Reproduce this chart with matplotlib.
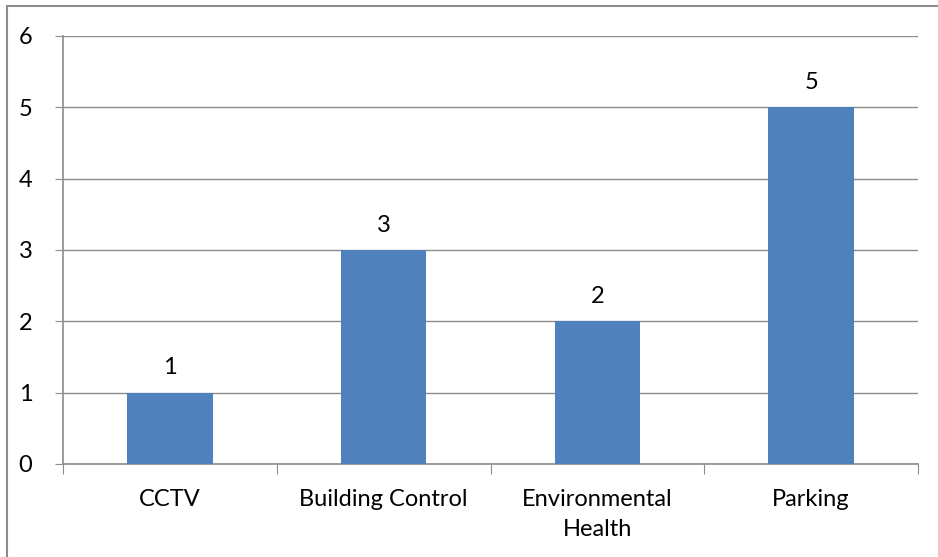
import matplotlib.pyplot as plt
from matplotlib.patches import Rectangle

categories = ["CCTV", "Building Control", "Environmental\nHealth", "Parking"]
counts = [1, 3, 2, 5]

W, H = 938, 557
fig = plt.figure(figsize=(W / 100, H / 100), dpi=100)
plt.rcParams['font.family'] = ['Lato', 'DejaVu Sans']
FS = 17

# plot area in pixel coords
left, right, top, bottom = 63, 918, 36, 464
ax = fig.add_axes([left / W, 1 - bottom / H, (right - left) / W, (bottom - top) / H])

# outer chart border (cropped on right/bottom)
fig.patches.append(Rectangle((7 / W, -0.1), 1.2, 1 - 6 / H + 0.1, transform=fig.transFigure,
                             fill=False, edgecolor='#8c8c8c', linewidth=1.5))

x = list(range(len(categories)))
ax.bar(x, counts, width=0.4, color='#4F81BD', zorder=3)
for xi, v in zip(x, counts):
    ax.text(xi, v + 0.2, str(v), ha='center', va='bottom', fontsize=FS)

ax.set_xlim(-0.5, len(categories) - 0.5)
ax.set_ylim(0, 6)
ax.set_yticks(range(0, 7))
ax.grid(axis='y', color='#8c8c8c', linewidth=1, zorder=0)
ax.set_axisbelow(True)

ax.set_xticks([i - 0.5 for i in range(len(categories) + 1)])
ax.set_xticklabels([])
ax.set_xticks(x, minor=True)
ax.set_xticklabels(categories, minor=True, fontsize=FS, linespacing=1.5)
ax.tick_params(axis='x', which='minor', length=0, pad=18)
ax.tick_params(axis='x', which='major', length=7, color='#8c8c8c')
ax.tick_params(axis='y', length=6, color='#8c8c8c', labelsize=FS, pad=16)

for s in ['top', 'right']:
    ax.spines[s].set_visible(False)
for s in ['left', 'bottom']:
    ax.spines[s].set_color('#8c8c8c')
    ax.spines[s].set_linewidth(1.2)

fig.savefig('out.png', dpi=100)
